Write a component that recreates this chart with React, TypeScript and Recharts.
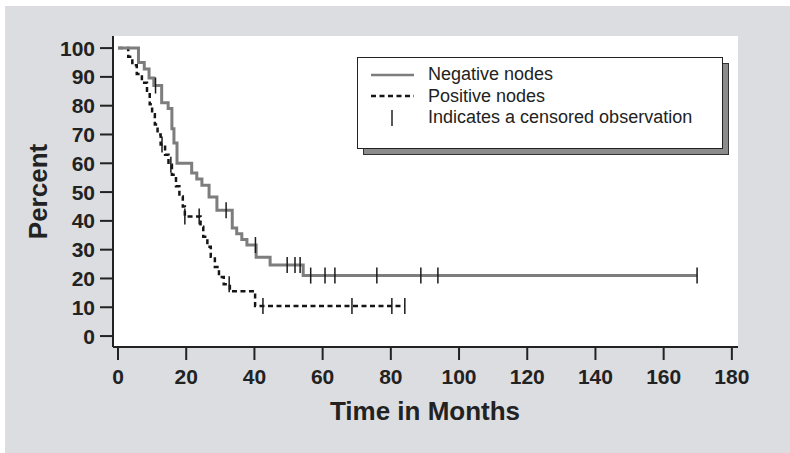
import {
  ComposedChart,
  Line,
  Scatter,
  XAxis,
  YAxis,
  CartesianGrid,
  Legend,
  Label,
} from "recharts";

// Kaplan-Meier estimates (months, percent surviving)
const negTimes = [0, 6, 7.7, 9.1, 10.5, 12.8, 14.7, 15.8, 16.4, 17.3, 21.6, 23.1, 24.6, 26.7, 29, 33.5, 34.8, 36.3, 37.8, 40.5, 44.6, 54.3, 169.8];
const negPct = [100, 95, 92.7, 89.6, 87, 81, 79, 72, 67, 60, 56.6, 54.5, 52.4, 48.3, 43.7, 37.5, 35.5, 33.5, 31.6, 27.4, 24.7, 21, 21];
const negCensored = [11, 31.7, 40.3, 49.6, 51.9, 53.4, 56.5, 60.7, 63.6, 75.9, 88.8, 93.8, 169.8];

const posTimes = [0, 3, 4.2, 5.5, 7, 8.5, 9.3, 10, 10.8, 11.6, 12.5, 13.8, 14.8, 15.8, 17, 18, 19, 19.6, 24.2, 25, 26.2, 27.2, 28.4, 29.6, 31, 32.8, 40.2, 84.1];
const posPct = [100, 97, 94, 91, 88, 84, 80.5, 77, 73.5, 70, 66.5, 63, 59.5, 56, 52, 48.5, 45, 41.5, 38, 34.5, 31, 27.5, 24, 20.5, 18, 15.6, 10.4, 10.4];
const posCensored = [12.9, 15.5, 19.6, 23.8, 32.6, 42.5, 68.6, 80.3, 84.1];

const xTicks = [0, 20, 40, 60, 80, 100, 120, 140, 160, 180];
const yTicks = [0, 10, 20, 30, 40, 50, 60, 70, 80, 90, 100];

const FONT = '"Liberation Sans", Arial, Helvetica, sans-serif';
const NEG_COLOR = "#7d7d7d";
const POS_COLOR = "#151515";

const toRows = (ts: number[], ps: number[]) => ts.map((t, i) => ({ t, p: ps[i] }));

// censor marks sit on the step curve at the time of censoring
const stepValue = (ts: number[], ps: number[], t: number) => {
  let v = ps[0];
  for (let i = 0; i < ts.length; i++) if (ts[i] <= t) v = ps[i];
  return v;
};
const toCensor = (cs: number[], ts: number[], ps: number[]) =>
  cs.map((t) => ({ t, p: stepValue(ts, ps, t) }));

const negRows = toRows(negTimes, negPct);
const posRows = toRows(posTimes, posPct);
const negMarks = toCensor(negCensored, negTimes, negPct);
const posMarks = toCensor(posCensored, posTimes, posPct);

const CensorTick = (props: any) => {
  const { cx, cy } = props;
  if (cx == null || cy == null) return null;
  return <line x1={cx} x2={cx} y1={cy - 8} y2={cy + 8} stroke="#1a1a1a" strokeWidth={1.5} />;
};

function KmLegend() {
  const row = { display: "flex", alignItems: "center", height: 21.5 } as const;
  return (
    <div style={{ position: "relative", width: 366, height: 92 }}>
      <div style={{ position: "absolute", left: 6, top: 6, width: 366, height: 92, background: "#8c8c8c", border: "1.5px solid #333", boxSizing: "border-box" }} />
      <div style={{ position: "absolute", left: 0, top: 0, width: 366, height: 92, background: "#fff", border: "1.5px solid #222", boxSizing: "border-box", padding: "6px 0 0 12px", fontFamily: FONT, fontSize: 18, color: "#222" }}>
        <div style={row}>
          <svg width={58} height={10}><line x1={1} x2={44} y1={5} y2={5} stroke={NEG_COLOR} strokeWidth={2.5} /></svg>
          <span>Negative nodes</span>
        </div>
        <div style={row}>
          <svg width={58} height={10}><line x1={1} x2={44} y1={5} y2={5} stroke={POS_COLOR} strokeWidth={2.5} strokeDasharray="5 3.5" /></svg>
          <span>Positive nodes</span>
        </div>
        <div style={row}>
          <svg width={58} height={20}><line x1={22} x2={22} y1={2} y2={18} stroke="#222" strokeWidth={1.5} /></svg>
          <span>Indicates a censored observation</span>
        </div>
      </div>
    </div>
  );
}

export default function App() {
  const tickStyle = { fontFamily: FONT, fontSize: 21, fontWeight: 700, fill: "#222" };
  return (
    <div style={{ position: "absolute", left: 0, top: 0, width: 790, height: 453, background: "#fff" }}>
      <div style={{ position: "absolute", left: 5, top: 6, width: 785, height: 447, background: "#dcdde0" }} />
      <div style={{ position: "absolute", left: 0, top: 0 }}>
        <ComposedChart width={790} height={453} margin={{ top: 36, right: 52, bottom: 46, left: 53 }}>
          <CartesianGrid horizontal={false} vertical={false} fill="#fff" fillOpacity={1} />
          <XAxis
            xAxisId="b"
            type="number"
            dataKey="t"
            domain={[-1.47, 181.8]}
            allowDataOverflow
            ticks={xTicks}
            interval={0}
            height={60}
            stroke="#222"
            strokeWidth={2}
            tickSize={13}
            tickMargin={9}
            tick={tickStyle}
          >
            <Label
              content={({ viewBox }: any) => (
                <text x={425} y={viewBox.y + 73} textAnchor="middle" fontFamily={FONT} fontSize={26} fontWeight={700} fill="#222">
                  Time in Months
                </text>
              )}
            />
          </XAxis>
          <XAxis xAxisId="top" orientation="top" type="number" domain={[-1.47, 181.8]} allowDataOverflow height={0} tick={false} tickLine={false} stroke="#222" strokeWidth={2} />
          <YAxis
            yAxisId="l"
            type="number"
            domain={[-3.8, 104.2]}
            allowDataOverflow
            ticks={yTicks}
            interval={0}
            width={60}
            stroke="#222"
            strokeWidth={2}
            tickSize={13}
            tickMargin={5}
            tick={tickStyle}
          >
            <Label
              content={({ viewBox }: any) => (
                <text x={47} y={viewBox.y + viewBox.height / 2} textAnchor="middle" transform={`rotate(-90, 47, ${viewBox.y + viewBox.height / 2})`} fontFamily={FONT} fontSize={26} fontWeight={700} fill="#222">
                  Percent
                </text>
              )}
            />
          </YAxis>
          <YAxis yAxisId="r" orientation="right" type="number" domain={[-3.8, 104.2]} allowDataOverflow width={0} tick={false} tickLine={false} stroke="#222" strokeWidth={2} />
          <Legend layout="horizontal" verticalAlign="middle" align="center" content={() => <KmLegend />} wrapperStyle={{ position: "absolute", left: 357, top: 57, width: 372, height: 98 }} />
          <Line xAxisId="b" yAxisId="l" data={posRows} dataKey="p" type="stepAfter" stroke={POS_COLOR} strokeWidth={2.5} strokeDasharray="5 3.5" dot={false} isAnimationActive={false} />
          <Line xAxisId="b" yAxisId="l" data={negRows} dataKey="p" type="stepAfter" stroke={NEG_COLOR} strokeWidth={3} dot={false} isAnimationActive={false} />
          <Scatter xAxisId="b" yAxisId="l" data={posMarks} dataKey="p" shape={CensorTick} isAnimationActive={false} />
          <Scatter xAxisId="b" yAxisId="l" data={negMarks} dataKey="p" shape={CensorTick} isAnimationActive={false} />
        </ComposedChart>
      </div>
    </div>
  );
}
